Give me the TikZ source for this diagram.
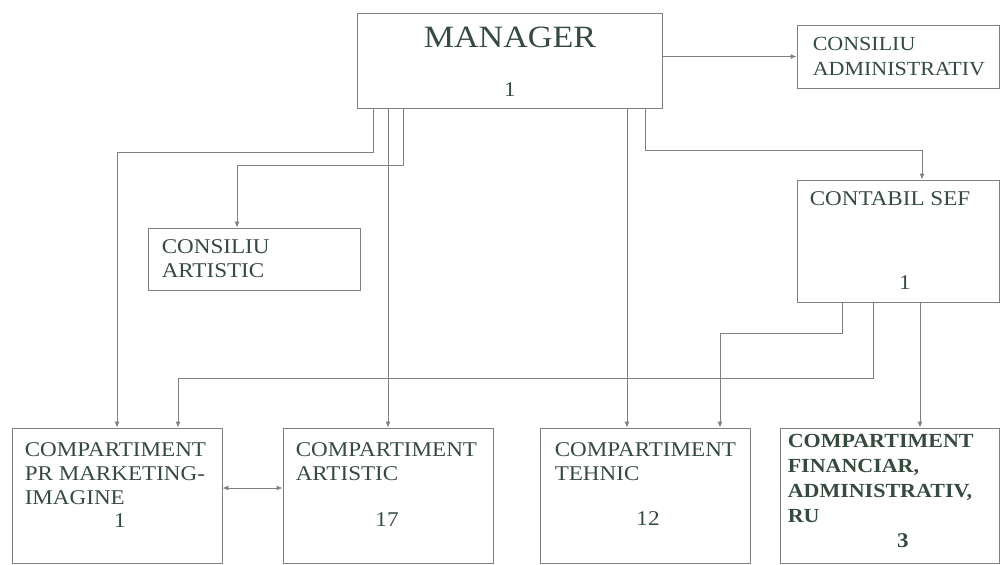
\documentclass[tikz,border=0pt]{standalone}
\usepackage{fontspec}
\setmainfont[FakeStretch=1.1]{Liberation Serif}
\usetikzlibrary{arrows.meta}

\definecolor{inkgray}{RGB}{55,74,64}
\definecolor{linegray}{RGB}{125,130,125}

\tikzset{
  box/.style={draw=linegray, line width=0.9pt, inner sep=0pt},
  conn/.style={draw=linegray, line width=0.9pt, -{Latex[length=6pt,width=5pt]}},
  conntwo/.style={conn, {Latex[length=6pt,width=5pt]}-{Latex[length=6pt,width=5pt]}},
  txt/.style={text=inkgray, inner sep=0pt, anchor=north west, align=left,
    font=\fontsize{21}{24}\selectfont},
  num/.style={text=inkgray, inner sep=0pt, font=\fontsize{21}{24}\selectfont},
}

\begin{document}
\begin{tikzpicture}[x=1pt,y=-1pt]

% ---------- Rahmen ----------
\useasboundingbox (0,0) rectangle (1002,565);

% ---------- Boxen oben ----------
\node[box, minimum width=305pt, minimum height=95pt] (mgr) at (509.5,60.5) {};
\node[text=inkgray, inner sep=0pt, font=\fontsize{31}{36}\selectfont] (mgrt) at (510,37) {MANAGER};
\node[num] (mgrn) at (510,90) {1};

\node[box, minimum width=202pt, minimum height=63pt] (cadm) at (898,56.5) {};
\node[txt, font=\fontsize{20}{25}\selectfont] (cadmt) at ([shift={(16,13)}]cadm.north west) {CONSILIU\\ADMINISTRATIV};

\node[box, minimum width=212pt, minimum height=62pt] (cart) at (254,259) {};
\node[txt] (cartt) at ([shift={(14,12)}]cart.north west) {CONSILIU\\ARTISTIC};

\node[box, minimum width=202pt, minimum height=122pt] (csef) at (898,241) {};
\node[txt] (cseft) at ([shift={(13,12)}]csef.north west) {CONTABIL SEF};
\node[num] (csefn) at (905,283) {1};

% ---------- Boxen unten ----------
\node[box, minimum width=210pt, minimum height=135pt] (b1) at (117,495.5) {};
\node[txt] (b1t) at ([shift={(13,15)}]b1.north west) {COMPARTIMENT\\PR MARKETING-\\IMAGINE};
\node[num] (b1n) at (120,521) {1};

\node[box, minimum width=210pt, minimum height=135pt] (b2) at (388,495.5) {};
\node[txt] (b2t) at ([shift={(13,15)}]b2.north west) {COMPARTIMENT\\ARTISTIC};
\node[num] (b2n) at (387,520) {17};

\node[box, minimum width=210pt, minimum height=135pt] (b3) at (645,495.5) {};
\node[txt] (b3t) at ([shift={(15,15)}]b3.north west) {COMPARTIMENT\\TEHNIC};
\node[num] (b3n) at (648,519) {12};

\node[box, minimum width=219pt, minimum height=135pt] (b4) at (889.5,495.5) {};
\node[txt, font=\fontsize{20}{25}\selectfont\bfseries] (b4t) at ([shift={(8,7)}]b4.north west)
  {COMPARTIMENT\\FINANCIAR,\\ADMINISTRATIV,\\RU};
\node[num, font=\fontsize{21}{25}\selectfont\bfseries] (b4n) at (903,541) {3};

% ---------- Knickpunkte ----------
\coordinate (k1) at (373,152);
\coordinate (k2a) at (403,165);
\coordinate (k2b) at (237,165);
\coordinate (k4) at (627,300);
\coordinate (k5a) at (645,150);
\coordinate (k5b) at (922,150);
\coordinate (k7a) at (842,333);
\coordinate (k7b) at (720,333);
\coordinate (k8a) at (873,378);
\coordinate (k8b) at (178,378);
\coordinate (k9) at (920,400);

% ---------- Verbindungen ----------
\draw[conn] (mgr.east |- cadm.west) -- (cadm.west);
\draw[conn] (mgr.south -| k1) -- (k1) -| (b1.north);
\draw[conn] (mgr.south -| k2a) |- (k2b) -- (cart.north -| k2b);
\draw[conn] (mgr.south -| b2.north) -- (b2.north);
\draw[conn] (mgr.south -| k4) -- (b3.north -| k4);
\draw[conn] (mgr.south -| k5a) |- (k5b) -- (csef.north -| k5b);

\draw[conn] (csef.south -| k7a) |- (k7b) -- (b3.north -| k7b);
\draw[conn] (csef.south -| k8a) |- (k8b) -- (b1.north -| k8b);
\draw[conn] (csef.south -| k9) -- (b4.north -| k9);

\draw[conntwo] ([yshift=7.5pt]b1.east) -- ([yshift=7.5pt]b2.west);

\end{tikzpicture}
\end{document}
